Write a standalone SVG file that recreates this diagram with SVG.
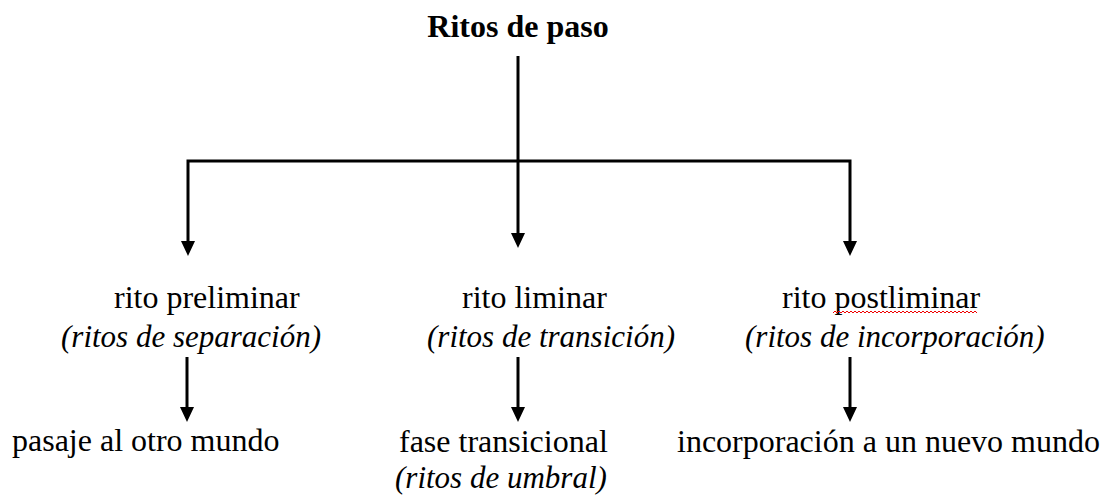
<svg xmlns="http://www.w3.org/2000/svg" width="1103" height="495" viewBox="0 0 1103 495">
<style>
.t{font-family:"Liberation Serif","Times New Roman",serif;fill:#000;}
.b{font-size:32px;font-weight:bold;}
.r{font-size:32px;}
.i{font-size:31px;font-style:italic;}
.c{fill:none;stroke:#000;stroke-width:3;stroke-linejoin:miter;}
</style>
<defs>
<marker id="ah" viewBox="0 0 15 14" refX="5" refY="7" markerWidth="15" markerHeight="14" markerUnits="userSpaceOnUse" orient="auto">
<path d="M0,0 L15,7 L0,14 z" fill="#000"/>
</marker>
</defs>
<rect width="1103" height="495" fill="#fff"/>
<g id="connectors">
<path class="c" d="M518 56 V238" marker-end="url(#ah)"/>
<path class="c" d="M518 161 H188 V246" marker-end="url(#ah)"/>
<path class="c" d="M518 161 H850 V246" marker-end="url(#ah)"/>
<path class="c" d="M187 357 V412" marker-end="url(#ah)"/>
<path class="c" d="M518 357 V412" marker-end="url(#ah)"/>
<path class="c" d="M850 357 V412" marker-end="url(#ah)"/>
</g>
<g id="root">
<text class="t b" x="518" y="37" text-anchor="middle">Ritos de paso</text>
</g>
<g id="preliminar">
<text class="t r" x="114" y="308">rito preliminar</text>
<text class="t i" x="61" y="347">(ritos de separación)</text>
</g>
<g id="liminar">
<text class="t r" x="462" y="308">rito liminar</text>
<text class="t i" x="427" y="347">(ritos de transición)</text>
</g>
<g id="postliminar">
<text class="t r" x="782" y="308">rito postliminar</text>
<path d="M833 313 l2 -2 l2 2 l2 -2 l2 2 l2 -2 l2 2 l2 -2 l2 2 l2 -2 l2 2 l2 -2 l2 2 l2 -2 l2 2 l2 -2 l2 2 l2 -2 l2 2 l2 -2 l2 2 l2 -2 l2 2 l2 -2 l2 2 l2 -2 l2 2 l2 -2 l2 2 l2 -2 l2 2 l2 -2 l2 2 l2 -2 l2 2 l2 -2 l2 2 l2 -2 l2 2 l2 -2 l2 2 l2 -2 l2 2 l2 -2 l2 2 l2 -2 l2 2 l2 -2 l2 2 l2 -2 l2 2 l2 -2 l2 2 l2 -2 l2 2 l2 -2 l2 2 l2 -2 l2 2 l2 -2 l2 2 l2 -2 l2 2 l2 -2 l2 2 l2 -2 l2 2 l2 -2 l2 2 l2 -2 l2 2 l2 -2 l2 2" fill="none" stroke="#e00" stroke-width="1"/>
<text class="t i" x="745" y="347">(ritos de incorporación)</text>
</g>
<g id="pasaje">
<text class="t r" x="12" y="451">pasaje al otro mundo</text>
</g>
<g id="fase">
<text class="t r" x="399" y="452">fase transicional</text>
<text class="t i" x="395" y="488">(ritos de umbral)</text>
</g>
<g id="incorporacion">
<text class="t r" x="677" y="452">incorporación a un nuevo mundo</text>
</g>
</svg>
